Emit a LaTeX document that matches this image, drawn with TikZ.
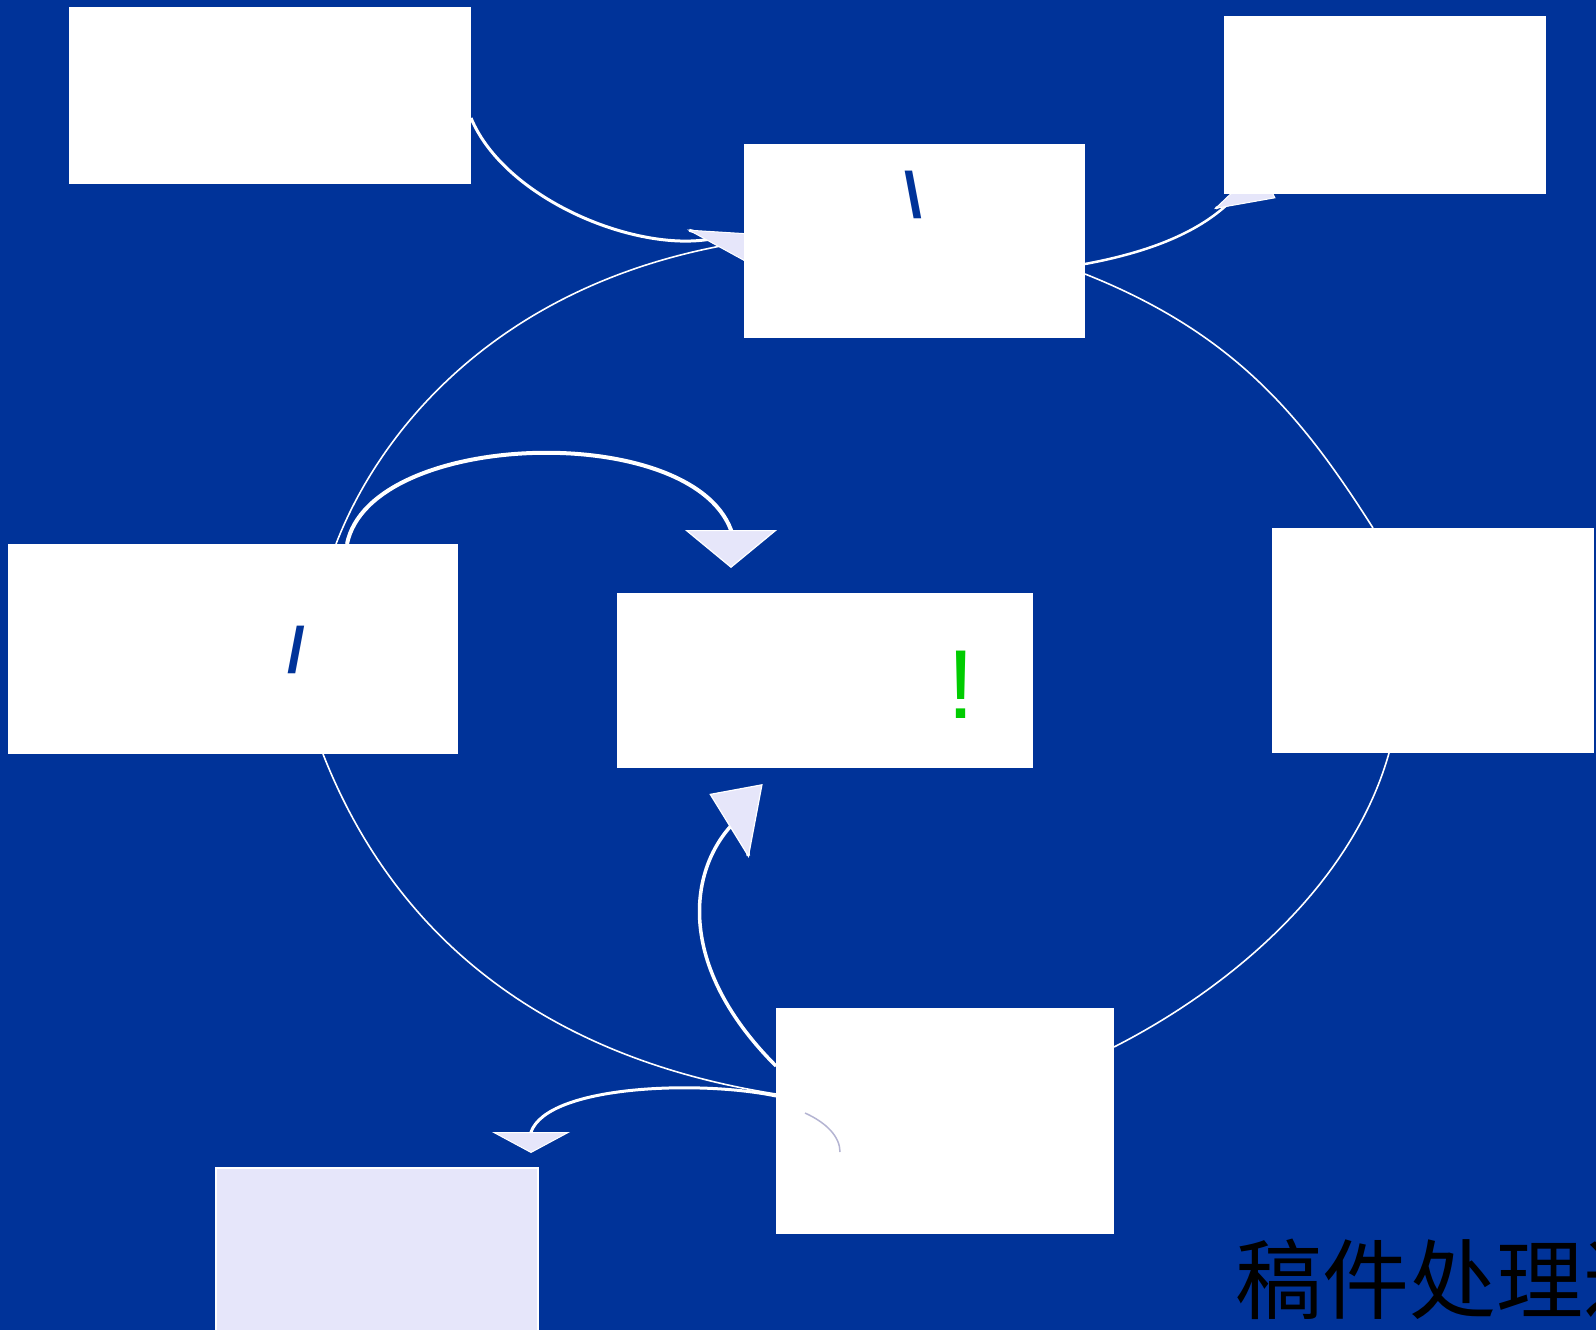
\documentclass[tikz,border=0pt]{standalone}
\usepackage{fontspec}
\setmainfont{Liberation Sans}
\newfontfamily\cjkfont{Noto Sans CJK SC}
\usepackage{tikz}
\usetikzlibrary{backgrounds}
\usetikzlibrary{arrows.meta}
\usetikzlibrary{calc,positioning}
\definecolor{deepblue}{HTML}{003399}
\definecolor{lav}{HTML}{E6E6FA}
\definecolor{tickgreen}{HTML}{00CC00}
\definecolor{faint}{HTML}{B4B4D2}
\pgfdeclarelayer{back}
\pgfdeclarelayer{links}
\pgfsetlayers{back,links,main}

\begin{document}
\begin{tikzpicture}[x=1pt, y=-1pt, box/.style = {rectangle, fill=white, inner sep=0pt, outer sep=0pt},
		glyph/.style = {inner sep=0pt, outer sep=0pt, text=deepblue, font=\fontsize{64}{64}\selectfont\bfseries},
		ring/.style = {draw=white, line width=1.6pt},
		flow/.style = {draw=white, line width=#1}, flow/.default=3pt, ]
			\useasboundingbox (0,0) rectangle (1596,1330);
			\begin{pgfonlayer}{back}
				\fill[deepblue] (0,0) rectangle (1596,1330);
			\end{pgfonlayer}
			\node [box, minimum width=402pt, minimum height=177pt] (nw) at (270,95.5) {};
			\node [box, minimum width=341pt, minimum height=194pt] (top) at (914.5,241) {};
			\node [box, minimum width=322pt, minimum height=178pt] (ne) at (1385,105) {};
			\node [box, minimum width=450pt, minimum height=210pt] (west) at (233,649) {};
			\node [box, minimum width=416pt, minimum height=175pt] (mid) at (825,680.5) {};
			\node [box, minimum width=322pt, minimum height=225pt] (east) at (1433,640.5) {};
			\node [box, minimum width=338pt, minimum height=226pt] (south) at (945,1121) {};
			\node [box, fill=lav, draw=white, line width=1.5pt, minimum width=322pt, minimum height=166pt] (sw) at (377,1251) {};
			\node [glyph] (topmark) at (913,195) {\textbackslash};
			\node [glyph] (westmark) at (296.5,650) {/};
			\node [glyph, text=tickgreen, font=\fontsize{98}{98}\selectfont] (midmark) at (961,685) {!};
			\node [anchor=west, inner sep=0pt, font=\cjkfont\fontsize{87}{87}\selectfont] (title) at (1235,1279) {稿件处理过};
			\draw [draw=faint, line width=1.5pt] ($(south.north west)+(29,105)$) .. controls +(22,10) and +(0,-15) .. ($(south.north west)+(64,144)$);
			\begin{pgfonlayer}{links}
				\draw [ring] ($(west.north west)+(328,0)$) .. controls (380,430) and (500,280) .. ($(top.north west)+(0,98)$);
				\draw [ring] ($(west.south west)+(315,0)$) .. controls (400,950) and (560,1060) .. ($(south.north west)+(0,86)$);
				\draw [ring] ($(top.north east)+(0,130)$) .. controls (1236,334) and (1303,418) .. ($(east.north west)+(101,0)$);
				\draw [ring] ($(east.south west)+(117,0)$) .. controls (1352,885) and (1230,988) .. ($(south.north east)+(0,39)$);
				\draw [flow=3pt, -{Triangle[reversed, length=70pt, width=31pt, fill=lav, line width=1pt]}] ($(nw.north east)+(0,111)$) .. controls (505,200) and (640,255) .. (716,238) -- ($(top.north west)+(10,105)$);
				\draw [flow=2.5pt, -{Triangle[reversed, length=60pt, width=36pt, fill=lav, line width=1pt]}] ($(top.north east)+(0,120)$) .. controls (1150,252) and (1200,232) .. (1232,200) -- ($(ne.south west)+(43.5,-12)$);
				\draw [flow=4pt, -{Triangle[length=38pt, width=92pt, fill=lav, line width=1.2pt]}] ($(west.north west)+(339,0)$) .. controls (370,430) and (690,420) .. (731,530) -- ($(mid.north west)+(114,-25)$);
				\draw [flow=3.5pt, -{Triangle[reversed, length=70pt, width=54pt, fill=lav, line width=1.2pt]}] ($(south.north west)+(0,58)$) .. controls (670,960) and (690,860) .. (741,816) -- ($(mid.south west)+(119,21)$);
				\draw [flow=3pt, -{Triangle[length=21pt, width=78pt, fill=lav, line width=1pt]}] ($(south.north west)+(0,88)$) .. controls (700,1080) and (548,1085) .. (531,1132) -- ($(sw.north west)+(315,-15)$);
			\end{pgfonlayer}
		\end{tikzpicture}
\end{document}
